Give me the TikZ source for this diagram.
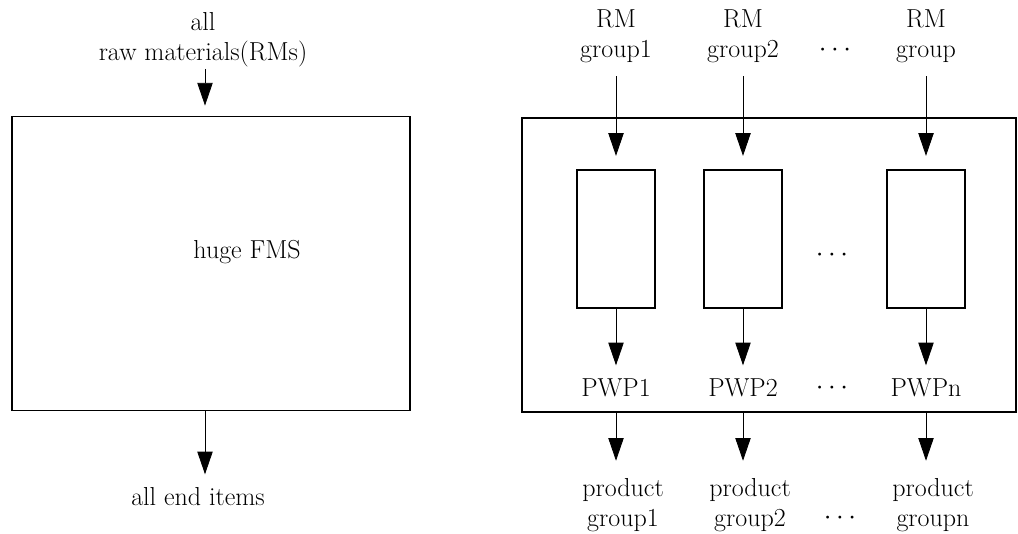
\documentclass[tikz,border=0pt]{standalone}
\usetikzlibrary{arrows.meta}
\begin{document}
\begin{tikzpicture}[x=0.75pt,y=-0.75pt,
  lbl/.style={align=center,inner sep=1pt,font=\fontsize{19.5}{22.5}\selectfont},
  frame/.style={draw,line width=1.4pt,inner sep=0pt},
  arr/.style={line width=0.6pt,-{Triangle[width=11.5pt,length=17pt]}}]
\useasboundingbox (0,0) rectangle (1018,533);
% left part
\node[lbl] (rmall) at (203,40) {all\\raw materials(RMs)};
\node[frame,minimum width=298.5pt,minimum height=220.5pt] (big) at (211,263.5) {};
\node[lbl] (fms) at (247,252) {huge FMS};
\node[lbl] (endit) at (198,497) {all end items};
\draw[arr,shorten <=0pt,shorten >=7.5pt] (rmall.south -| 205,0) -- (big.north -| 205,0);
\draw[arr,shorten >=9pt] (big.south -| 205,0) -- (endit.north -| 205,0);
% right part
\node[frame,minimum width=370.5pt,minimum height=220.5pt] (right) at (769,265) {};
\foreach \i/\x/\g in {1/616/group1,2/743/group2,3/926/group}{
  \node[lbl] (rm\i) at (\x,36) {RM\\\g};
  \node[frame,line width=1.2pt,minimum width=58.5pt,minimum height=103.5pt] (s\i) at (\x,239) {};
  \draw[arr,shorten <=9pt,shorten >=10pt] (rm\i.south) -- (s\i.north);
}
\node[lbl] (pwp1) at (616,388) {PWP1};
\node[lbl] (pwp2) at (743,388) {PWP2};
\node[lbl] (pwp3) at (926,388) {PWPn};
\node[lbl] (prod1) at (623,505) {product\\group1};
\node[lbl] (prod2) at (750,505) {product\\group2};
\node[lbl] (prod3) at (933,505) {product\\groupn};
\foreach \i in {1,2,3}{
  \draw[arr,shorten >=9pt] (s\i.south) -- (s\i.south |- pwp\i.north);
  \draw[arr,shorten >=12pt] (s\i.south |- right.south) -- (s\i.south |- prod\i.north);
}
\node[lbl] (d1) at (835,50) {$\cdots$};
\node[lbl] (d2) at (832,255) {$\cdots$};
\node[lbl] (d3) at (832,388) {$\cdots$};
\node[lbl] (d4) at (840,518) {$\cdots$};
\end{tikzpicture}
\end{document}
